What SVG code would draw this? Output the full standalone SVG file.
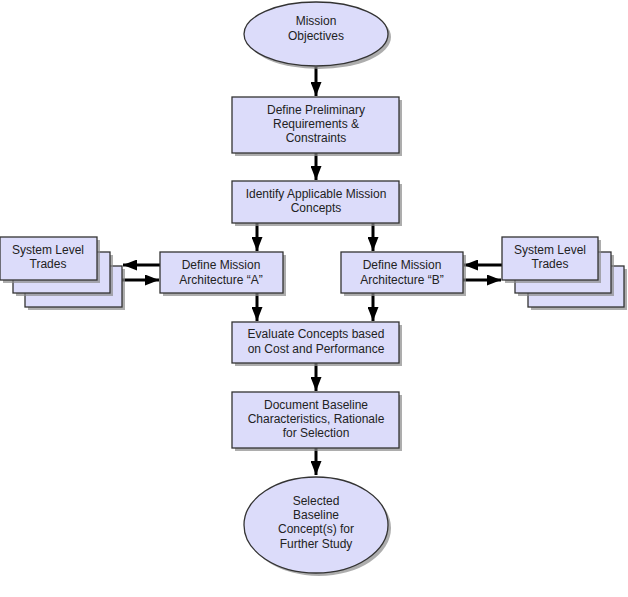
<svg xmlns="http://www.w3.org/2000/svg" width="628" height="597" viewBox="0 0 628 597">
<defs>
<style>
.n{fill:#dcdcfa;stroke:#333;stroke-width:1.3}
.sh{fill:#8a8a8a;opacity:0.7}
.t{font-family:"Liberation Sans",Arial,sans-serif;font-size:12px;fill:#222;text-anchor:middle}
.c{stroke:#000;stroke-width:3;fill:none}
</style>
<marker id="ah" viewBox="0 0 14 11" refX="14" refY="5.5" markerWidth="14" markerHeight="11" markerUnits="userSpaceOnUse" orient="auto">
<path d="M0,0 L14,5.5 L0,11 z" fill="#000"/>
</marker>
</defs>
<g id="connectors">
<path class="c" d="M316,67 V96" marker-end="url(#ah)"/>
<path class="c" d="M316,153 V180" marker-end="url(#ah)"/>
<path class="c" d="M257,223 V251" marker-end="url(#ah)"/>
<path class="c" d="M373,223 V251" marker-end="url(#ah)"/>
<path class="c" d="M160,265 H123" marker-end="url(#ah)"/>
<path class="c" d="M122,280 H159" marker-end="url(#ah)"/>
<path class="c" d="M502,265 H464" marker-end="url(#ah)"/>
<path class="c" d="M463,280 H501" marker-end="url(#ah)"/>
<path class="c" d="M257,293 V321" marker-end="url(#ah)"/>
<path class="c" d="M373,293 V321" marker-end="url(#ah)"/>
<path class="c" d="M316,363 V391" marker-end="url(#ah)"/>
<path class="c" d="M316,448 V475" marker-end="url(#ah)"/>
</g>
<g id="mission-objectives">
<ellipse class="sh" cx="319" cy="37" rx="72" ry="32"/>
<ellipse class="n" cx="316" cy="34" rx="72" ry="32"/>
<text class="t" x="316" y="25">Mission</text>
<text class="t" x="316" y="40">Objectives</text>
</g>
<g id="define-prelim">
<rect class="sh" x="235" y="100" width="167" height="56"/>
<rect class="n" x="232" y="97" width="167" height="56"/>
<text class="t" x="316" y="114">Define Preliminary</text>
<text class="t" x="316" y="128">Requirements &amp;</text>
<text class="t" x="316" y="142">Constraints</text>
</g>
<g id="identify-concepts">
<rect class="sh" x="235" y="184" width="167" height="42"/>
<rect class="n" x="232" y="181" width="167" height="42"/>
<text class="t" x="316" y="198">Identify Applicable Mission</text>
<text class="t" x="316" y="212">Concepts</text>
</g>
<g id="arch-a">
<rect class="sh" x="163" y="255" width="123" height="41"/>
<rect class="n" x="160" y="252" width="123" height="41"/>
<text class="t" x="221" y="269">Define Mission</text>
<text class="t" x="221" y="284">Architecture “A”</text>
</g>
<g id="arch-b">
<rect class="sh" x="344" y="255" width="122" height="41"/>
<rect class="n" x="341" y="252" width="122" height="41"/>
<text class="t" x="402" y="269">Define Mission</text>
<text class="t" x="402" y="284">Architecture “B”</text>
</g>
<g id="trades-left">
<rect class="sh" x="28" y="269" width="97" height="41"/>
<rect class="n" x="25" y="266" width="97" height="41"/>
<rect class="sh" x="16" y="255" width="97" height="41"/>
<rect class="n" x="13" y="252" width="97" height="41"/>
<rect class="sh" x="3" y="240" width="97" height="43"/>
<rect class="n" x="0" y="237" width="97" height="43"/>
<text class="t" x="48" y="254">System Level</text>
<text class="t" x="48" y="268">Trades</text>
</g>
<g id="trades-right">
<rect class="sh" x="531" y="269" width="96" height="41"/>
<rect class="n" x="528" y="266" width="96" height="41"/>
<rect class="sh" x="518" y="255" width="96" height="41"/>
<rect class="n" x="515" y="252" width="96" height="41"/>
<rect class="sh" x="505" y="240" width="96" height="43"/>
<rect class="n" x="502" y="237" width="96" height="43"/>
<text class="t" x="550" y="254">System Level</text>
<text class="t" x="550" y="268">Trades</text>
</g>
<g id="evaluate">
<rect class="sh" x="235" y="325" width="167" height="41"/>
<rect class="n" x="232" y="322" width="167" height="41"/>
<text class="t" x="316" y="338">Evaluate Concepts based</text>
<text class="t" x="316" y="353">on Cost and Performance</text>
</g>
<g id="document">
<rect class="sh" x="235" y="395" width="167" height="56"/>
<rect class="n" x="232" y="392" width="167" height="56"/>
<text class="t" x="316" y="409">Document Baseline</text>
<text class="t" x="316" y="423">Characteristics, Rationale</text>
<text class="t" x="316" y="437">for Selection</text>
</g>
<g id="selected-baseline">
<ellipse class="sh" cx="319" cy="528" rx="72" ry="48"/>
<ellipse class="n" cx="316" cy="525" rx="72" ry="48"/>
<text class="t" x="316" y="505">Selected</text>
<text class="t" x="316" y="519">Baseline</text>
<text class="t" x="316" y="533">Concept(s) for</text>
<text class="t" x="316" y="548">Further Study</text>
</g>
</svg>
